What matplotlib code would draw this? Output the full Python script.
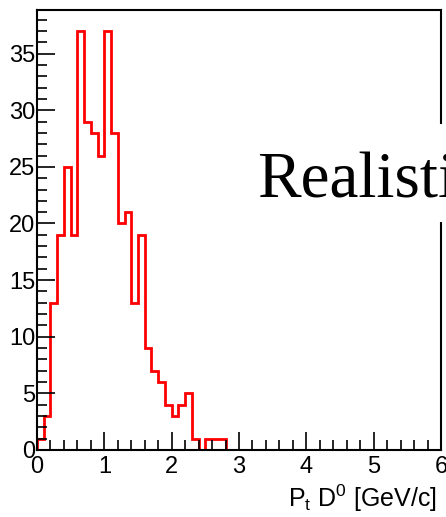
import numpy as np
import matplotlib.pyplot as plt
from matplotlib.patches import Rectangle
from matplotlib.ticker import MultipleLocator

# D0 transverse momentum spectrum, 0.1 GeV/c bins starting at 0
BIN_WIDTH = 0.1
counts = [1, 3, 13, 19, 25, 19, 37, 29, 28, 26,
          37, 28, 20, 21, 13, 19, 9, 7, 6, 4,
          3, 4, 5, 1, 0, 1, 1, 1]
edges = np.arange(len(counts) + 1) * BIN_WIDTH

X_MAX = 6.0
Y_MAX = max(counts) * 1.05  # same headroom ROOT gives by default

plt.rcParams['font.family'] = ['Liberation Sans', 'DejaVu Sans']

W, H = 446, 517
fig = plt.figure(figsize=(W / 100, H / 100), dpi=100)
ax = fig.add_axes([37 / W, 1 - 450 / H, 404 / W, 440 / H])

ax.stairs(counts, edges, color='red', lw=2, baseline=0)

ax.set_xlim(0, X_MAX)
ax.set_ylim(0, Y_MAX)

ax.xaxis.set_major_locator(MultipleLocator(1))
ax.xaxis.set_minor_locator(MultipleLocator(0.2))
ax.yaxis.set_major_locator(MultipleLocator(5))
ax.yaxis.set_minor_locator(MultipleLocator(1))
ax.tick_params(which='both', direction='in', top=False, right=False, width=1.2, color='black')
ax.tick_params(which='major', length=13, labelsize=17)
ax.tick_params(which='minor', length=7)
ax.tick_params(axis='x', which='major', pad=4)
ax.tick_params(axis='y', which='major', pad=1)
for s in ax.spines.values():
    s.set_linewidth(1.5)

ax.set_xlabel(r'P$_{\mathregular{t}}$ D$^{\mathregular{0}}$ [GeV/c]', fontsize=18)
ax.xaxis.set_label_coords(0.99, -0.075)
ax.xaxis.label.set_horizontalalignment('right')

# overlaid caption on a white patch, partly running off the canvas
fig.patches.append(Rectangle((250 / W, 1 - 222 / H), 196 / W, 98 / H,
                             transform=fig.transFigure, facecolor='white',
                             edgecolor='none', zorder=5))
fig.text(257 / W, 1 - 198 / H, 'Realistic', family='Liberation Serif',
         fontsize=47, color='black', va='baseline', ha='left', zorder=6)

fig.savefig('out.png', dpi=100)
